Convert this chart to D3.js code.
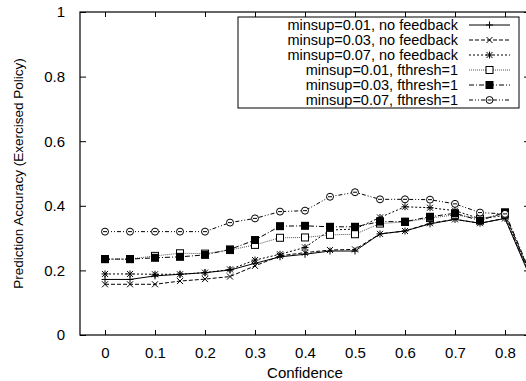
<!DOCTYPE html>
<html>
<head>
<meta charset="utf-8">
<script src="https://cdn.jsdelivr.net/npm/d3@7"></script>
<style>
  body { margin: 0; background: #fff; }
  text { font-family: "Liberation Sans", Arial, sans-serif; font-size: 15px; fill: #000; }
</style>
</head>
<body>
<div id="chart"></div>
<script>
const WIDTH = 526;
const HEIGHT = 381;

// confidence thresholds on the x axis
const confidence = [0, 0.05, 0.1, 0.15, 0.2, 0.25, 0.3, 0.35, 0.4, 0.45, 0.5, 0.55, 0.6, 0.65, 0.7, 0.75, 0.8, 0.85];

const minsup01NoFb = [0.172, 0.172, 0.183, 0.188, 0.193, 0.201, 0.222, 0.242, 0.25, 0.26, 0.26, 0.313, 0.322, 0.344, 0.358, 0.346, 0.361, 0.18];
const minsup03NoFb = [0.157, 0.157, 0.157, 0.167, 0.173, 0.181, 0.214, 0.245, 0.255, 0.263, 0.265, 0.313, 0.322, 0.346, 0.358, 0.346, 0.361, 0.185];
const minsup07NoFb = [0.189, 0.189, 0.188, 0.188, 0.193, 0.203, 0.232, 0.25, 0.271, 0.325, 0.328, 0.364, 0.397, 0.394, 0.385, 0.36, 0.37, 0.19];
const minsup01Fth = [0.235, 0.235, 0.245, 0.253, 0.252, 0.263, 0.279, 0.301, 0.302, 0.31, 0.312, 0.345, 0.35, 0.362, 0.372, 0.36, 0.375, 0.19];
const minsup03Fth = [0.235, 0.235, 0.239, 0.242, 0.248, 0.265, 0.294, 0.337, 0.338, 0.335, 0.335, 0.351, 0.351, 0.366, 0.377, 0.354, 0.38, 0.195];
const minsup07Fth = [0.32, 0.32, 0.32, 0.32, 0.32, 0.348, 0.361, 0.382, 0.385, 0.428, 0.442, 0.42, 0.42, 0.419, 0.406, 0.379, 0.375, 0.19];

const seriesNames = [
  'minsup=0.01, no feedback',
  'minsup=0.03, no feedback',
  'minsup=0.07, no feedback',
  'minsup=0.01, fthresh=1',
  'minsup=0.03, fthresh=1',
  'minsup=0.07, fthresh=1',
];
const xTicks = [0, 0.1, 0.2, 0.3, 0.4, 0.5, 0.6, 0.7, 0.8];
const yTicks = [0, 0.2, 0.4, 0.6, 0.8, 1];

const xLabel = 'Confidence';
const yLabel = 'Prediction Accuracy (Exercised Policy)';

// gnuplot-like line types
const styles = [
  { dash: null, marker: 'plus', stroke: '#000' },
  { dash: '4,2', marker: 'cross', stroke: '#000' },
  { dash: '2,2', marker: 'star', stroke: '#000' },
  { dash: '1,1', marker: 'openSquare', stroke: '#555' },
  { dash: '5,2,1,2', marker: 'filledSquare', stroke: '#000' },
  { dash: '4,2,1,2,1,2', marker: 'circle', stroke: '#000' },
];

const allSeries = [minsup01NoFb, minsup03NoFb, minsup07NoFb, minsup01Fth, minsup03Fth, minsup07Fth];

const plot = { left: 80, right: 530, top: 12, bottom: 335 };

const x = d3.scaleLinear().domain([-0.05, 0.85]).range([plot.left, plot.right]);
const y = d3.scaleLinear().domain([0, 1]).range([plot.bottom, plot.top]);

const svg = d3.select('#chart')
  .append('svg')
  .attr('width', WIDTH)
  .attr('height', HEIGHT);

svg.append('defs').append('clipPath').attr('id', 'clip')
  .append('rect')
  .attr('x', plot.left).attr('y', plot.top)
  .attr('width', plot.right - plot.left).attr('height', plot.bottom - plot.top);

// axes with inward ticks (mirrored on top/right)
svg.append('g')
  .attr('transform', `translate(0,${plot.bottom})`)
  .call(d3.axisBottom(x).tickValues(xTicks).tickSizeInner(-5).tickSizeOuter(0).tickPadding(12).tickFormat(d3.format('')))
  .call(g => g.select('.domain').remove());
svg.append('g')
  .attr('transform', `translate(0,${plot.top})`)
  .call(d3.axisTop(x).tickValues(xTicks).tickSizeInner(-5).tickSizeOuter(0).tickFormat(''))
  .call(g => g.select('.domain').remove());
svg.append('g')
  .attr('transform', `translate(${plot.left},0)`)
  .call(d3.axisLeft(y).tickValues(yTicks).tickSizeInner(-6).tickSizeOuter(0).tickPadding(15).tickFormat(d3.format('')))
  .call(g => g.select('.domain').remove());
svg.append('g')
  .attr('transform', `translate(${plot.right},0)`)
  .call(d3.axisRight(y).tickValues(yTicks).tickSizeInner(-6).tickSizeOuter(0).tickFormat(''))
  .call(g => g.select('.domain').remove());

svg.selectAll('.tick line').attr('stroke', '#000');
svg.selectAll('.tick text')
  .style('font-family', '"Liberation Sans", Arial, sans-serif')
  .style('font-size', '15px')
  .attr('fill', '#000');

// plot border
svg.append('rect')
  .attr('x', plot.left).attr('y', plot.top)
  .attr('width', plot.right - plot.left).attr('height', plot.bottom - plot.top)
  .attr('fill', 'none').attr('stroke', '#000').attr('stroke-width', 1.2);

function drawMarker(g, type, cx, cy) {
  const s = 3.5;
  if (type === 'plus') {
    g.append('path').attr('d', `M${cx - s},${cy}H${cx + s}M${cx},${cy - s}V${cy + s}`)
      .attr('stroke', '#000').attr('stroke-width', 1);
  } else if (type === 'cross') {
    g.append('path').attr('d', `M${cx - 3},${cy - 3}L${cx + 3},${cy + 3}M${cx - 3},${cy + 3}L${cx + 3},${cy - 3}`)
      .attr('stroke', '#000').attr('stroke-width', 1);
  } else if (type === 'star') {
    g.append('path').attr('d', `M${cx - s},${cy}H${cx + s}M${cx},${cy - s}V${cy + s}M${cx - 3},${cy - 3}L${cx + 3},${cy + 3}M${cx - 3},${cy + 3}L${cx + 3},${cy - 3}`)
      .attr('stroke', '#000').attr('stroke-width', 1);
  } else if (type === 'openSquare') {
    g.append('rect').attr('x', cx - 3.5).attr('y', cy - 3.5).attr('width', 7).attr('height', 7)
      .attr('fill', '#fff').attr('stroke', '#000').attr('stroke-width', 1);
  } else if (type === 'filledSquare') {
    g.append('rect').attr('x', cx - 4).attr('y', cy - 4).attr('width', 8).attr('height', 8)
      .attr('fill', '#000');
  } else if (type === 'circle') {
    g.append('circle').attr('cx', cx).attr('cy', cy).attr('r', 3.5)
      .attr('fill', '#fff').attr('stroke', '#000').attr('stroke-width', 1);
    g.append('path').attr('d', `M${cx - 2},${cy}H${cx + 2}`).attr('stroke', '#000').attr('stroke-width', 1);
  }
}

const line = d3.line()
  .x((d, i) => x(confidence[i]))
  .y(d => y(d));

const plotG = svg.append('g').attr('clip-path', 'url(#clip)');

allSeries.forEach((values, k) => {
  const st = styles[k];
  const g = plotG.append('g');
  g.append('path')
    .datum(values)
    .attr('fill', 'none')
    .attr('stroke', st.stroke)
    .attr('stroke-width', 1)
    .attr('stroke-dasharray', st.dash)
    .attr('d', line);
  values.forEach((v, i) => drawMarker(g, st.marker, x(confidence[i]), y(v)));
});

// legend
const legend = svg.append('g');
legend.append('rect')
  .attr('x', 238).attr('y', 17).attr('width', 281).attr('height', 91)
  .attr('fill', '#fff').attr('stroke', '#000').attr('stroke-width', 1);

seriesNames.forEach((name, k) => {
  const st = styles[k];
  const cy = 25 + k * 15;
  legend.append('text')
    .attr('x', 458).attr('y', cy)
    .attr('dy', '0.35em')
    .attr('text-anchor', 'end')
    .style('font-size', '14.5px')
    .text(name);
  legend.append('path')
    .attr('d', `M469,${cy}H510`)
    .attr('stroke', st.stroke)
    .attr('stroke-width', 1)
    .attr('stroke-dasharray', st.dash);
  drawMarker(legend, st.marker, 489.5, cy);
});

// axis titles
svg.append('text')
  .attr('x', (plot.left + plot.right) / 2)
  .attr('y', 378)
  .attr('text-anchor', 'middle')
  .text(xLabel);

svg.append('text')
  .attr('transform', `translate(23,${(plot.top + plot.bottom) / 2}) rotate(-90)`)
  .attr('text-anchor', 'middle')
  .style('font-size', '13.5px')
  .text(yLabel);
</script>
</body>
</html>
